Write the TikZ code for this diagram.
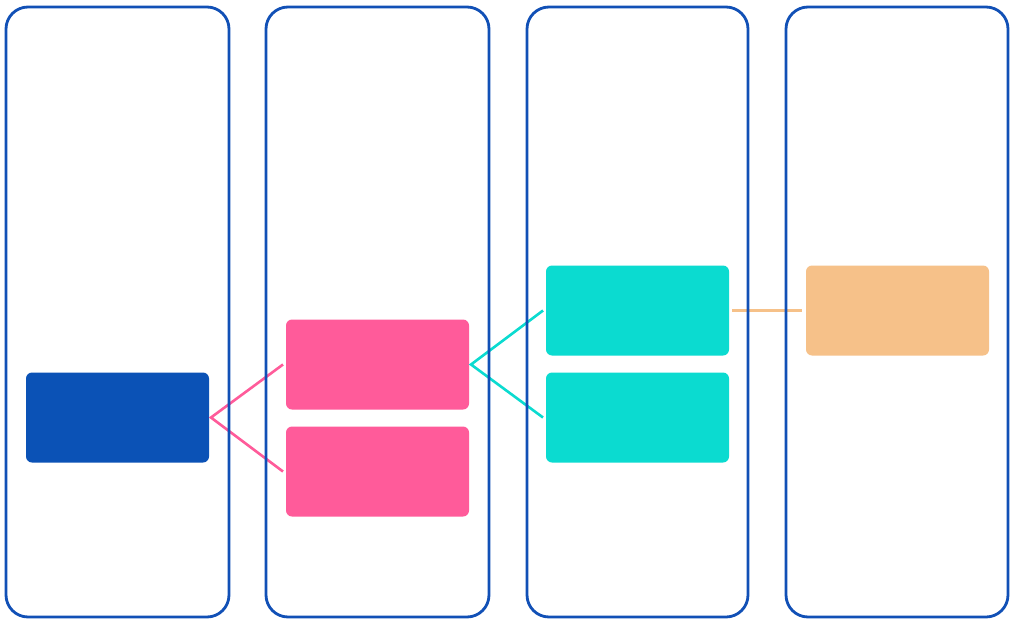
\documentclass[tikz,border=0pt]{standalone}
\definecolor{laneblue}{HTML}{1150B6}
\definecolor{boxblue}{HTML}{0B52B6}
\definecolor{boxpink}{HTML}{FF5B9A}
\definecolor{boxteal}{HTML}{0BDBD0}
\definecolor{boxorange}{HTML}{F6C189}
\begin{document}
\begin{tikzpicture}[x=1pt,y=-1pt,
  lane/.style={draw=laneblue,line width=2.8pt,rounded corners=22pt,minimum height=610pt,inner sep=0pt,outer sep=0pt},
  card/.style={rounded corners=6pt,minimum width=183pt,minimum height=90pt,inner sep=0pt,outer sep=0pt},
  link/.style={line width=2.6pt}]
\fill[white] (0,0) rectangle (1014,623);
\useasboundingbox (0,0) rectangle (1014,623);
\node[card,fill=boxblue] (b) at (117.5,417.5) {};
\node[card,fill=boxpink] (p1) at (377.5,364.5) {};
\node[card,fill=boxpink] (p2) at (377.5,471.5) {};
\node[card,fill=boxteal] (t1) at (637.5,310.5) {};
\node[card,fill=boxteal] (t2) at (637.5,417.5) {};
\node[card,fill=boxorange] (o) at (897.5,310.5) {};
\draw[link,draw=boxpink] ([xshift=-3pt]p1.west) -- ([xshift=2pt]b.east) -- ([xshift=-3pt]p2.west);
\draw[link,draw=boxteal] ([xshift=-3pt]t1.west) -- ([xshift=2pt]p1.east) -- ([xshift=-3pt]t2.west);
\draw[link,draw=boxorange] ([xshift=3pt]t1.east) -- ([xshift=-4pt]o.west);
\node[lane,minimum width=223pt] (l1) at (117.5,312) {};
\node[lane,minimum width=223pt] (l2) at (377.5,312) {};
\node[lane,minimum width=221pt] (l3) at (637.5,312) {};
\node[lane,minimum width=222pt] (l4) at (897,312) {};
\end{tikzpicture}
\end{document}
